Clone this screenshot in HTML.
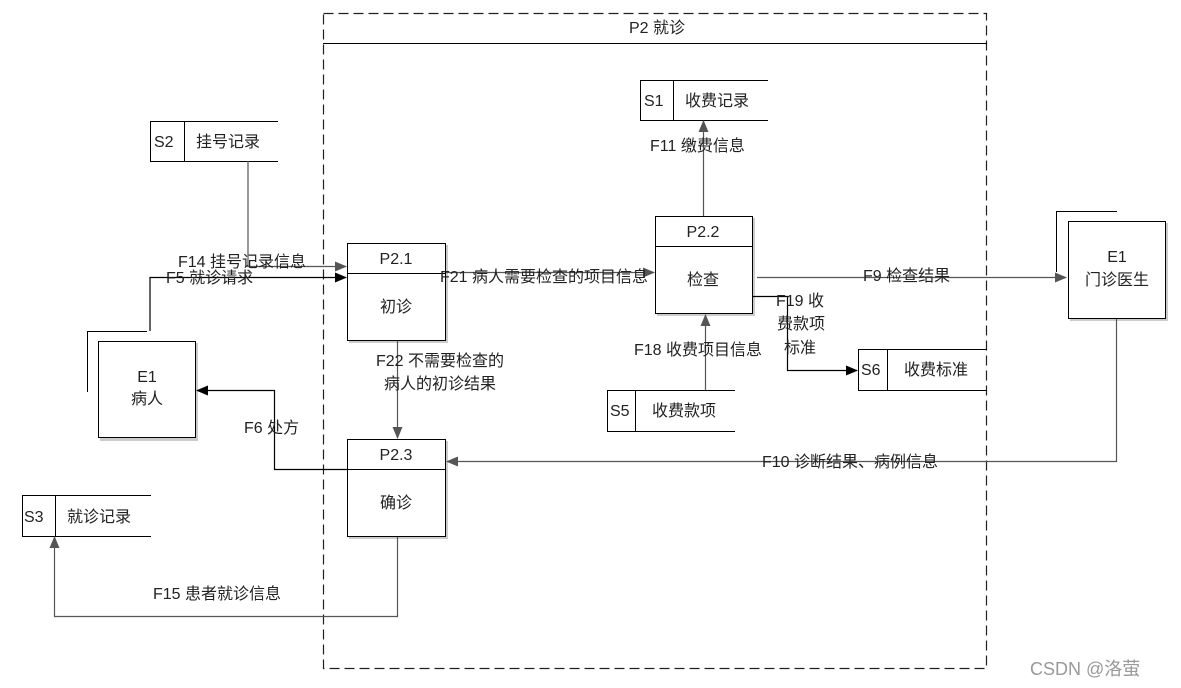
<!DOCTYPE html>
<html><head><meta charset="utf-8"><style>
html,body{margin:0;padding:0;background:#fff;width:1181px;height:688px;overflow:hidden}
svg text{font-family:"Liberation Sans","Noto Sans CJK SC",sans-serif;font-size:16px;fill:#222}
</style></head><body>
<svg width="1181" height="688" viewBox="0 0 1181 688" xmlns="http://www.w3.org/2000/svg">
<defs>
<marker id="ag" markerWidth="12" markerHeight="10" refX="11" refY="5" orient="auto" markerUnits="userSpaceOnUse"><path d="M0,0 L12,5 L0,10 z" fill="#555"/></marker>
<marker id="ab" markerWidth="12" markerHeight="10" refX="11" refY="5" orient="auto" markerUnits="userSpaceOnUse"><path d="M0,0 L12,5 L0,10 z" fill="#000"/></marker>
</defs>
<rect x="323.5" y="13.5" width="663" height="655" fill="none" stroke="#222" stroke-width="1.2" stroke-dasharray="10,5"/>
<line x1="323" y1="43.5" x2="987" y2="43.5" stroke="#000"/>
<text x="657" y="33" text-anchor="middle">P2 就诊</text>

<g fill="#fff" stroke="#000" stroke-width="1">
<rect x="349" y="245" width="99" height="98" fill="#ccc" stroke="none"/>
<rect x="347.5" y="243.5" width="98" height="97"/>
<rect x="657" y="218" width="98" height="98" fill="#ccc" stroke="none"/>
<rect x="655.5" y="216.5" width="97" height="97"/>
<rect x="349" y="441" width="99" height="98" fill="#ccc" stroke="none"/>
<rect x="347.5" y="439.5" width="98" height="97"/>
<rect x="100" y="343" width="98" height="98" fill="#ccc" stroke="none"/>
<rect x="98.5" y="341.5" width="97" height="96"/>
<rect x="1070" y="223" width="98" height="98" fill="#ccc" stroke="none"/>
<rect x="1068.5" y="221.5" width="97" height="97"/>
</g>
<g stroke="#000" fill="none">
<line x1="347" y1="273.5" x2="446" y2="273.5"/>
<line x1="655" y1="246.5" x2="753" y2="246.5"/>
<line x1="347" y1="469.5" x2="446" y2="469.5"/>
<polyline points="87.5,392 87.5,331.5 147,331.5"/>
<polyline points="1056.5,272 1056.5,211.5 1117,211.5"/>
<polyline points="768,80.5 640.5,80.5 640.5,120.5 768,120.5"/><line x1="673.5" y1="80" x2="673.5" y2="121"/>
<polyline points="278,121.5 150.5,121.5 150.5,161.5 278,161.5"/><line x1="184.5" y1="121" x2="184.5" y2="162"/>
<polyline points="151,495.5 22.5,495.5 22.5,536.5 151,536.5"/><line x1="55.5" y1="495" x2="55.5" y2="537"/>
<polyline points="735,390.5 607.5,390.5 607.5,431.5 735,431.5"/><line x1="635.5" y1="390" x2="635.5" y2="432"/>
<polyline points="987,349.5 858.5,349.5 858.5,390.5 987,390.5"/><line x1="887.5" y1="349" x2="887.5" y2="391"/>
</g>
<g fill="none" stroke-width="1.2">
<polyline points="248,161 248,266.5 346,266.5" stroke="#555" marker-end="url(#ag)"/>
<polyline points="150,331 150,277.5 346,277.5" stroke="#000" marker-end="url(#ab)"/>
<line x1="446" y1="272.5" x2="654" y2="272.5" stroke="#555" marker-end="url(#ag)"/>
<line x1="703.5" y1="216" x2="703.5" y2="121" stroke="#555" marker-end="url(#ag)"/>
<line x1="757" y1="277.5" x2="1066" y2="277.5" stroke="#555" marker-end="url(#ag)"/>
<polyline points="753,296.5 787.5,296.5 787.5,370.5 857,370.5" stroke="#000" marker-end="url(#ab)"/>
<line x1="705.5" y1="390" x2="705.5" y2="315" stroke="#555" marker-end="url(#ag)"/>
<line x1="397.5" y1="341" x2="397.5" y2="438" stroke="#555" marker-end="url(#ag)"/>
<polyline points="1116.5,319 1116.5,461.5 447,461.5" stroke="#555" marker-end="url(#ag)"/>
<polyline points="347,469.5 274.5,469.5 274.5,390.5 197,390.5" stroke="#000" marker-end="url(#ab)"/>
<polyline points="397.5,537 397.5,616.5 54.5,616.5 54.5,537" stroke="#555" marker-end="url(#ag)"/>
</g>
<text x="396" y="264" text-anchor="middle">P2.1</text>
<text x="396" y="312" text-anchor="middle">初诊</text>
<text x="703" y="237" text-anchor="middle">P2.2</text>
<text x="703" y="285" text-anchor="middle">检查</text>
<text x="396" y="460" text-anchor="middle">P2.3</text>
<text x="396" y="508" text-anchor="middle">确诊</text>
<text x="147" y="382" text-anchor="middle">E1</text>
<text x="147" y="404" text-anchor="middle">病人</text>
<text x="1117" y="262" text-anchor="middle">E1</text>
<text x="1117" y="285" text-anchor="middle">门诊医生</text>
<text x="644" y="106">S1</text><text x="685" y="106">收费记录</text>
<text x="154" y="147">S2</text><text x="196" y="147">挂号记录</text>
<text x="24" y="522">S3</text><text x="67" y="522">就诊记录</text>
<text x="610" y="416">S5</text><text x="652" y="416">收费款项</text>
<text x="861" y="375">S6</text><text x="904" y="375">收费标准</text>
<text x="178" y="267">F14 挂号记录信息</text>
<text x="166" y="283">F5 就诊请求</text>
<text x="440" y="282">F21 病人需要检查的项目信息</text>
<text x="650" y="151">F11 缴费信息</text>
<text x="863" y="281">F9 检查结果</text>
<text x="776" y="306">F19 收</text>
<text x="777" y="329">费款项</text>
<text x="784" y="353">标准</text>
<text x="634" y="355">F18 收费项目信息</text>
<text x="376" y="366">F22 不需要检查的</text>
<text x="384" y="389">病人的初诊结果</text>
<text x="762" y="467">F10 诊断结果、病例信息</text>
<text x="244" y="433">F6 处方</text>
<text x="153" y="599">F15  患者就诊信息</text>
<text x="1030" y="675" style="fill:#999;font-size:18px">CSDN @洛萤</text>
</svg>
</body></html>
